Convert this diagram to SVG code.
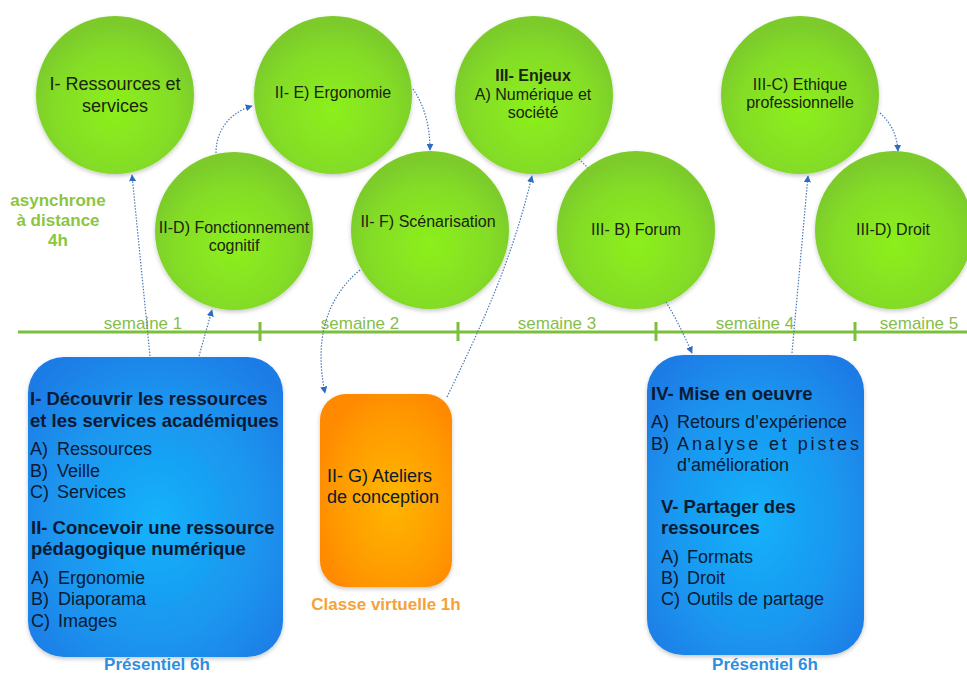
<svg xmlns="http://www.w3.org/2000/svg" width="967" height="675" viewBox="0 0 967 675">
<defs>
<radialGradient id="gGreen" cx="50%" cy="60%" r="55%">
<stop offset="0" stop-color="#8cf01c"/>
<stop offset="0.7" stop-color="#84dc26"/>
<stop offset="1" stop-color="#7bcb2c"/>
</radialGradient>
<radialGradient id="gBlue" cx="50%" cy="55%" r="65%">
<stop offset="0" stop-color="#17b2fb"/>
<stop offset="0.6" stop-color="#1a96ef"/>
<stop offset="1" stop-color="#1c7ce6"/>
</radialGradient>
<radialGradient id="gOrange" cx="55%" cy="55%" r="60%">
<stop offset="0" stop-color="#ffb600"/>
<stop offset="0.7" stop-color="#ff9a00"/>
<stop offset="1" stop-color="#ff8a00"/>
</radialGradient>
<filter id="sh" x="-20%" y="-20%" width="140%" height="140%">
<feDropShadow dx="0" dy="2" stdDeviation="2" flood-color="#000" flood-opacity="0.22"/>
</filter>
<marker id="arr" viewBox="0 0 10 10" refX="9" refY="5" markerWidth="7" markerHeight="7" orient="auto" markerUnits="userSpaceOnUse">
<path d="M0,0 L10,5 L0,10 z" fill="#2a6cc4"/>
</marker>
<style>
text{font-family:"Liberation Sans",Arial,sans-serif;}
.circ{fill:url(#gGreen);filter:url(#sh);}
.ct{font-size:16px;fill:#1b2410;text-anchor:middle;}
.ct18{font-size:18px;fill:#1b2410;text-anchor:middle;}
.bt{font-size:18px;fill:#0b1a33;}
.bb{font-size:18.5px;font-weight:bold;fill:#0b1a33;}
.wk{font-size:17px;fill:#86bd4a;text-anchor:middle;}
.tl{stroke:#7cbf3e;stroke-width:3;fill:none;}
.con{stroke:#4a78b8;stroke-width:1.2;stroke-dasharray:1.5 1.5;fill:none;}
.lab{font-size:17px;font-weight:bold;text-anchor:middle;}
</style>
</defs>
<rect width="967" height="675" fill="#ffffff"/>

<g id="timeline">
<line class="tl" x1="18" y1="332" x2="967" y2="332"/>
<line class="tl" x1="260" y1="322" x2="260" y2="341" stroke-width="2"/>
<line class="tl" x1="458" y1="322" x2="458" y2="341" stroke-width="2"/>
<line class="tl" x1="656" y1="322" x2="656" y2="341" stroke-width="2"/>
<line class="tl" x1="855" y1="322" x2="855" y2="341" stroke-width="2"/>
<text class="wk" x="143" y="329">semaine 1</text>
<text class="wk" x="360" y="329">semaine 2</text>
<text class="wk" x="557" y="329">semaine 3</text>
<text class="wk" x="755" y="329">semaine 4</text>
<text class="wk" x="919" y="329">semaine 5</text>
</g>

<g id="label-async">
<text class="lab" fill="#8cc63f" x="58" y="206">asynchrone</text>
<text class="lab" fill="#8cc63f" x="58" y="226">à distance</text>
<text class="lab" fill="#8cc63f" x="58" y="246">4h</text>
</g>

<g id="n1">
<circle class="circ" cx="115" cy="95" r="79"/>
<text class="ct18" x="115" y="90">I- Ressources et</text>
<text class="ct18" x="115" y="112">services</text>
</g>
<g id="n2">
<circle class="circ" cx="333" cy="95" r="79"/>
<text class="ct" x="333" y="98">II- E) Ergonomie</text>
</g>
<g id="n3">
<circle class="circ" cx="234" cy="231" r="79"/>
<text class="ct" x="234" y="233">II-D) Fonctionnement</text>
<text class="ct" x="234" y="251">cognitif</text>
</g>
<g id="n4">
<circle class="circ" cx="430" cy="230" r="79"/>
<text class="ct" x="428" y="227">II- F) Scénarisation</text>
</g>
<g id="n5">
<circle class="circ" cx="534" cy="95" r="79"/>
<text class="ct" x="533" y="81" font-weight="bold">III- Enjeux</text>
<text class="ct" x="533" y="100">A) Numérique et</text>
<text class="ct" x="533" y="118">société</text>
</g>
<g id="n6">
<circle class="circ" cx="636" cy="230" r="79"/>
<text class="ct" x="636" y="235">III- B) Forum</text>
</g>
<g id="n7">
<circle class="circ" cx="800" cy="95" r="79"/>
<text class="ct" x="800" y="90">III-C) Ethique</text>
<text class="ct" x="800" y="108">professionnelle</text>
</g>
<g id="n8">
<circle class="circ" cx="894" cy="230" r="79"/>
<text class="ct" x="893" y="235">III-D) Droit</text>
</g>

<g id="b1">
<rect x="28" y="357" width="255" height="300" rx="36" fill="url(#gBlue)" filter="url(#sh)"/>
<text class="bb" x="30" y="405">I- Découvrir les ressources</text>
<text class="bb" x="30" y="427">et les services académiques</text>
<text class="bt" x="30" y="455">A)<tspan x="57">Ressources</tspan></text>
<text class="bt" x="30" y="477">B)<tspan x="57">Veille</tspan></text>
<text class="bt" x="30" y="498">C)<tspan x="57">Services</tspan></text>
<text class="bb" x="31" y="534">II- Concevoir une ressource</text>
<text class="bb" x="31" y="555">pédagogique numérique</text>
<text class="bt" x="31" y="584">A)<tspan x="58">Ergonomie</tspan></text>
<text class="bt" x="31" y="605">B)<tspan x="58">Diaporama</tspan></text>
<text class="bt" x="31" y="627">C)<tspan x="58">Images</tspan></text>
<text class="lab" fill="#2e8ee0" x="157" y="670">Présentiel 6h</text>
</g>

<g id="b2">
<rect x="320" y="394" width="132" height="193" rx="26" fill="url(#gOrange)" filter="url(#sh)"/>
<text class="bt" x="327" y="482" fill="#2a1a05">II- G) Ateliers</text>
<text class="bt" x="327" y="503" fill="#2a1a05">de conception</text>
<text class="lab" fill="#f5a23a" x="386" y="610">Classe virtuelle 1h</text>
</g>

<g id="b3">
<rect x="647" y="355" width="217" height="300" rx="36" fill="url(#gBlue)" filter="url(#sh)"/>
<text class="bb" x="651" y="400">IV- Mise en oeuvre</text>
<text class="bt" x="651" y="428">A)<tspan x="677">Retours d’expérience</tspan></text>
<text class="bt" x="651" y="450">B)<tspan x="677" textLength="182" lengthAdjust="spacing">Analyse et pistes</tspan></text>
<text class="bt" x="677" y="471">d’amélioration</text>
<text class="bb" x="661" y="513">V- Partager des</text>
<text class="bb" x="661" y="534">ressources</text>
<text class="bt" x="661" y="563">A)<tspan x="687">Formats</tspan></text>
<text class="bt" x="661" y="584">B)<tspan x="687">Droit</tspan></text>
<text class="bt" x="661" y="605">C)<tspan x="687">Outils de partage</tspan></text>
<text class="lab" fill="#2e8ee0" x="765" y="670">Présentiel 6h</text>
</g>

<g id="connectors">
<path class="con" d="M150,356 L132,175" marker-end="url(#arr)"/>
<path class="con" d="M199,356 L212,310" marker-end="url(#arr)"/>
<path class="con" d="M216,153 C216,128 232,112 252,106" marker-end="url(#arr)"/>
<path class="con" d="M413,89 C424,105 430,125 430,150" marker-end="url(#arr)"/>
<path class="con" d="M360,270 C326,298 314,340 325,393" marker-end="url(#arr)"/>
<path class="con" d="M447,397 C482,325 512,260 532,176" marker-end="url(#arr)"/>
<path class="con" d="M579,159 L588,168"/>
<path class="con" d="M666,302 C676,318 684,335 692,353" marker-end="url(#arr)"/>
<path class="con" d="M792,353 L808,176" marker-end="url(#arr)"/>
<path class="con" d="M880,113 C890,122 897,134 898,151" marker-end="url(#arr)"/>
</g>
</svg>
